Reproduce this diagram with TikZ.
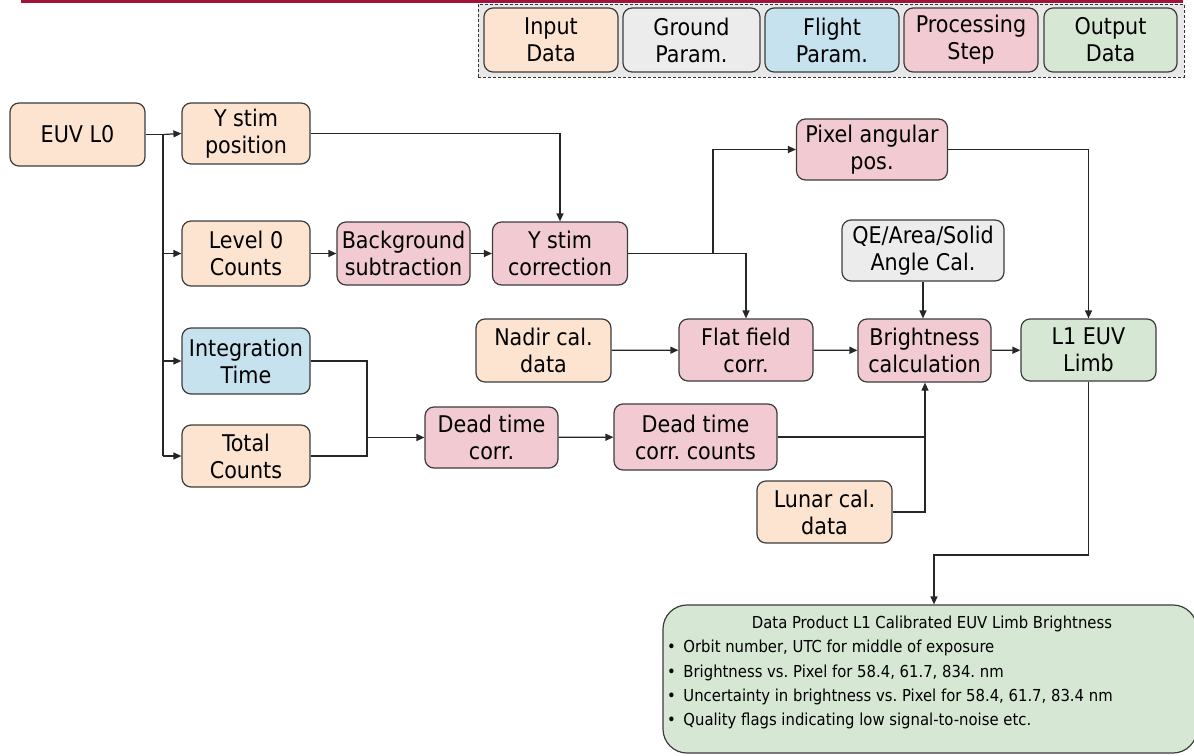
\documentclass[tikz,border=0pt]{standalone}
\usepackage{fontspec}
\setmainfont{DejaVu Sans Condensed}
\usetikzlibrary{arrows.meta}
\definecolor{inputc}{RGB}{252,228,208}
\definecolor{groundc}{RGB}{236,236,236}
\definecolor{flightc}{RGB}{198,226,238}
\definecolor{procc}{RGB}{241,203,209}
\definecolor{outc}{RGB}{214,232,212}
\definecolor{legbg}{RGB}{232,232,232}
\definecolor{edgec}{RGB}{60,60,60}
\definecolor{topbar}{RGB}{160,20,60}
\tikzset{
  box/.style={draw=edgec, line width=1.2pt, rounded corners=9pt, align=center,
    font=\fontsize{23}{27}\selectfont, inner sep=0pt, anchor=center},
  inbox/.style={box, fill=inputc},
  gndbox/.style={box, fill=groundc},
  fltbox/.style={box, fill=flightc},
  procbox/.style={box, fill=procc},
  outbox/.style={box, fill=outc},
  wire/.style={draw=black!85, line width=1.2pt},
  arr/.style={wire, -{Triangle[length=8pt,width=7pt]}},
  small/.style={font=\fontsize{16.5}{19}\selectfont, inner sep=0pt}
}
\frenchspacing
\newcommand{\bx}[6]{% name, style, cx, cy, w, h, text follows
  \node[#2, minimum width=#5pt, minimum height=#6pt] (#1) at (#3,#4)}
\begin{document}
\begin{tikzpicture}[x=1pt,y=-1pt]
\useasboundingbox (0,0) rectangle (1194,755);
\begin{scope}
\clip (0,0) rectangle (1194,755);

% top rule
\fill[topbar] (21,0) rectangle (1183,2.5);

% legend
\node[draw=black!80, dash pattern=on 3pt off 2pt, fill=legbg, line width=1pt, minimum width=706pt, minimum height=73pt, inner sep=0pt] (legend) at (831,40.5) {};
\bx{lin}{inbox}{551}{40}{134}{64}{Input\\Data};
\bx{lgnd}{gndbox}{691.5}{40}{137}{64}{Ground\\Param.};
\bx{lflt}{fltbox}{832}{40}{134}{64}{Flight\\Param.};
\bx{lproc}{procbox}{971}{40}{134}{64}{Processing\\Step};
\bx{lout}{outbox}{1110.5}{40}{133}{64}{Output\\Data};

% flow nodes
\bx{euv}{inbox}{77.5}{134.5}{135}{63}{EUV L0};
\bx{ystim}{inbox}{246}{133.5}{128}{61}{Y stim\\position};
\bx{lvl}{inbox}{246}{253.5}{128}{65}{Level 0\\Counts};
\bx{intg}{fltbox}{246}{361}{128}{66}{Integration\\Time};
\bx{total}{inbox}{246}{456}{128}{62}{Total\\Counts};
\bx{bg}{procbox}{403.5}{253.5}{133}{63}{Background\\subtraction};
\bx{ysc}{procbox}{560}{253.5}{135}{63}{Y stim\\correction};
\bx{pix}{procbox}{872}{149.5}{151}{61}{Pixel angular\\pos.};
\bx{qe}{gndbox}{923}{250.5}{162}{61}{QE/Area/Solid\\Angle Cal.};
\bx{nadir}{inbox}{543.5}{350.5}{135}{63}{Nadir cal.\\data};
\bx{flat}{procbox}{746}{350}{134}{62}{Flat field\\corr.};
\bx{bright}{procbox}{924.5}{350.5}{133}{63}{Brightness\\calculation};
\bx{lone}{outbox}{1088.5}{350}{135}{62}{L1 EUV\\Limb};
\bx{dtc}{procbox}{491.5}{437.5}{133}{61}{Dead time\\corr.};
\bx{dtcc}{procbox}{695.5}{437}{163}{66}{Dead time\\corr. counts};
\bx{lunar}{inbox}{824.5}{512}{135}{62}{Lunar cal.\\data};

% data product box (runs past the right edge)
\node[draw=edgec, line width=1.2pt, fill=outc, rounded corners=24pt, minimum width=534pt, minimum height=148pt, inner sep=0pt] (prod) at (930,679) {};
\node[small, anchor=center] (ptitle) at (932,624) {Data Product L1 Calibrated EUV Limb Brightness};
\node[small, anchor=west] (pb1) at (667,648) {•\, Orbit number, UTC for middle of exposure};
\node[small, anchor=west] (pb2) at (667,673) {•\, Brightness vs. Pixel for 58.4, 61.7, 834. nm};
\node[small, anchor=west] (pb3) at (667,697) {•\, Uncertainty in brightness vs. Pixel for 58.4, 61.7, 83.4 nm};
\node[small, anchor=west] (pb4) at (667,721) {•\, Quality flags indicating low signal-to-noise etc.};

% junction points
\coordinate (split) at (163,134.5);
\coordinate (splitend) at (163,456);
\coordinate (yscfork) at (713,253.5);
\coordinate (dtmerge) at (367,437.5);
\coordinate (dtjoin) at (925,437);
\coordinate (l1turn) at (1088.5,555);
\coordinate (prodin) at (934,555);

% fan-out from EUV L0
\draw[wire] (euv.east) -- (split) -- (splitend);
\draw[arr] (split) -- (ystim.west);
\draw[arr] (split |- lvl.west) -- (lvl.west);
\draw[arr] (split |- intg.west) -- (intg.west);
\draw[arr] (splitend) -- (total.west);

% background and Y stim chain
\draw[arr] (lvl) -- (bg);
\draw[arr] (bg) -- (ysc);
\draw[arr] (ystim.east) -| (ysc.north);
\draw[arr] (ysc.east) -- (yscfork) |- (pix.west);
\draw[arr] (yscfork) -| (flat.north);
\draw[arr] (pix.east) -| (lone.north);

% calibration chain
\draw[arr] (qe.south) -- (qe.south |- bright.north);
\draw[arr] (nadir) -- (flat);
\draw[arr] (flat) -- (bright);
\draw[arr] (bright) -- (lone);

% dead time branch
\draw[wire] (intg.east) -| (dtmerge |- total.east) -- (total.east);
\draw[arr] (dtmerge) -- (dtc.west);
\draw[arr] (dtc) -- (dtcc);
\draw[arr] (dtcc.east) -- (dtjoin) -- (dtjoin |- bright.south);
\draw[wire] (lunar.east) -| (dtjoin);

% L1 product
\draw[arr] (lone.south) -- (l1turn) -- (prodin) -- (prodin |- prod.north);
\end{scope}
\end{tikzpicture}
\end{document}
